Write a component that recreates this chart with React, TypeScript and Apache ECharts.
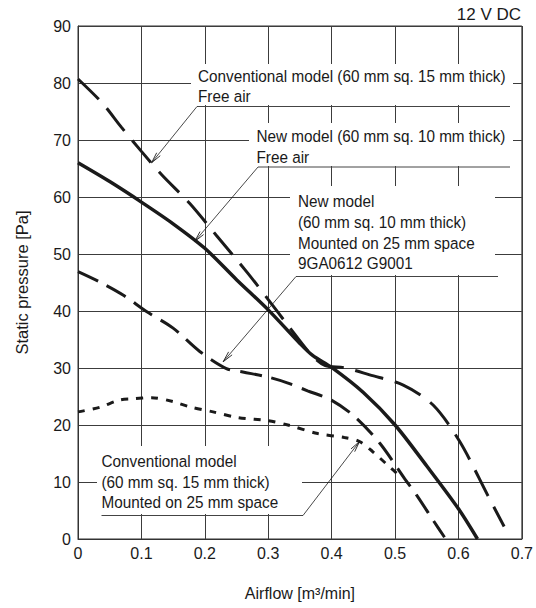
import React, { useEffect, useRef } from 'react';
import * as echarts from 'echarts';

const FONT = '"Liberation Sans", Arial, sans-serif';

// Conventional model (60 mm sq. 15 mm thick), free air
const convFreeX = [0, 0.039, 0.068, 0.1, 0.132, 0.176, 0.218, 0.268, 0.3, 0.331, 0.368, 0.39, 0.42, 0.46, 0.513, 0.56, 0.602, 0.646, 0.672];
const convFreeP = [80.7, 76.4, 72.3, 68, 63.9, 58.9, 53.3, 46.6, 42, 37.5, 32.3, 30.4, 30.05, 28.8, 27, 23.5, 17.1, 7.7, 2.2];

// New model (60 mm sq. 10 mm thick), free air
const newFreeX = [0, 0.05, 0.1, 0.15, 0.2, 0.25, 0.3, 0.35, 0.37, 0.4, 0.45, 0.5, 0.55, 0.6, 0.63];
const newFreeP = [66, 62.7, 59.1, 55.3, 51, 45.5, 40.2, 34.3, 32.2, 30.1, 25.7, 20, 12.8, 5.3, 0];

// New model mounted on 25 mm space
const newMountX = [0, 0.034, 0.071, 0.108, 0.15, 0.192, 0.234, 0.26, 0.3, 0.33, 0.362, 0.399, 0.436, 0.476, 0.515, 0.534, 0.56, 0.578];
const newMountP = [46.9, 45.1, 42.8, 39.9, 37, 32.9, 29.9, 29.3, 28.4, 27.4, 26, 24.4, 21.5, 16.8, 10.6, 7.7, 3.3, 0.3];

// Conventional model mounted on 25 mm space
const convMountX = [0, 0.034, 0.066, 0.087, 0.116, 0.15, 0.176, 0.213, 0.252, 0.297, 0.331, 0.378, 0.42, 0.444, 0.465, 0.486, 0.51];
const convMountP = [22.3, 23.1, 24.4, 24.6, 24.8, 24.1, 23.2, 22.3, 21.3, 20.8, 20, 18.5, 17.8, 17.1, 15.3, 13.2, 10.8];

// Leader arrow targets (airflow, pressure)
const leaderTargets = [
  [0.116, 66],
  [0.184, 52.2],
  [0.229, 31.1],
  [0.444, 17.1],
];

const label1 = ['Conventional model (60 mm sq. 15 mm thick)', 'Free air'];
const label2 = ['New model (60 mm sq. 10 mm thick)', 'Free air'];
const label3 = ['New model', '(60 mm sq. 10 mm thick)', 'Mounted on 25 mm space', '9GA0612 G9001'];
const label4 = ['Conventional model', '(60 mm sq. 15 mm thick)', 'Mounted on 25 mm space'];

const pairs = (xs: number[], ys: number[]) => xs.map((x, i) => [x, ys[i]]);

export default function App() {
  const ref = useRef<HTMLDivElement>(null);
  useEffect(() => {
    const chart = echarts.init(ref.current!, null, { renderer: 'svg' });
    const ink = '#1a1a1a';
    const gridColor = '#3c3c3c';
    chart.setOption({
      animation: false,
      backgroundColor: '#fff',
      grid: { left: 78, right: 14, top: 26, bottom: 69, show: true, borderColor: '#333', borderWidth: 1 },
      xAxis: {
        type: 'value', min: 0, max: 0.7, interval: 0.1,
        name: 'Airflow [m³/min]', nameLocation: 'middle', nameGap: 46,
        nameTextStyle: { fontFamily: FONT, fontSize: 16, color: ink },
        axisLine: { show: true, lineStyle: { color: '#333', width: 1 } },
        axisTick: { show: false },
        axisLabel: { fontFamily: FONT, fontSize: 16, color: ink, margin: 6 },
        splitLine: { show: true, lineStyle: { color: gridColor, width: 1 } },
      },
      yAxis: {
        type: 'value', min: 0, max: 90, interval: 10,
        name: 'Static pressure [Pa]', nameLocation: 'middle', nameGap: 48,
        nameTextStyle: { fontFamily: FONT, fontSize: 16.5, color: ink },
        axisLine: { show: true, lineStyle: { color: '#333', width: 1 } },
        axisTick: { show: false },
        axisLabel: { fontFamily: FONT, fontSize: 16, color: ink, margin: 7 },
        splitLine: { show: true, lineStyle: { color: gridColor, width: 1 } },
      },
      series: [
        { type: 'line', name: 'convFree', data: pairs(convFreeX, convFreeP), smooth: 0.3, symbol: 'none', z: 3,
          lineStyle: { color: ink, width: 3, type: [29, 12], cap: 'butt' } },
        { type: 'line', name: 'newFree', data: pairs(newFreeX, newFreeP), smooth: 0.3, symbol: 'none', z: 3,
          lineStyle: { color: ink, width: 3.5, type: 'solid' } },
        { type: 'line', name: 'newMount', data: pairs(newMountX, newMountP), smooth: 0.3, symbol: 'none', z: 3,
          lineStyle: { color: ink, width: 3, type: [22, 10], cap: 'butt' } },
        { type: 'line', name: 'convMount', data: pairs(convMountX, convMountP), smooth: 0.3, symbol: 'none', z: 3,
          lineStyle: { color: ink, width: 3, type: [7, 8], cap: 'butt' } },
      ],
    });

    const px = (v: number[]) => chart.convertToPixel({ xAxisIndex: 0, yAxisIndex: 0 }, v) as number[];
    const g: any[] = [];
    const SX = 0.9;
    const textStyle = (text: string) => ({ text, font: `17px ${FONT}`, fill: ink, align: 'left', verticalAlign: 'middle', textAlign: 'left', textVerticalAlign: 'middle' });
    const box = (x: number, y: number, w: number, h: number) => g.push({ type: 'rect', shape: { x, y, width: w, height: h }, style: { fill: '#fff' }, z: 1, silent: true });
    const lines = (x: number, ys: number[], texts: string[]) => texts.forEach((t, i) => g.push({ type: 'text', x, y: ys[i], scaleX: SX, style: textStyle(t), z: 5, silent: true }));
    const hline = (x1: number, x2: number, y: number) => g.push({ type: 'line', shape: { x1, y1: y, x2, y2: y }, style: { stroke: '#444', lineWidth: 1 }, z: 5, silent: true });
    const leader = (sx: number, sy: number, target: number[]) => {
      const [tx, ty] = px(target);
      const dx = tx - sx, dy = ty - sy;
      const len = Math.hypot(dx, dy);
      const ux = dx / len, uy = dy / len;
      const nx = -uy, ny = ux;
      const hl = 11, hw = 2.3;
      g.push({ type: 'line', shape: { x1: sx, y1: sy, x2: tx, y2: ty }, style: { stroke: ink, lineWidth: 0.8 }, z: 5, silent: true });
      g.push({ type: 'polyline', shape: { points: [[tx - hl * ux + hw * nx, ty - hl * uy + hw * ny], [tx, ty], [tx - hl * ux - hw * nx, ty - hl * uy - hw * ny]] }, style: { stroke: ink, lineWidth: 0.9, fill: 'none' }, z: 5, silent: true });
    };

    // label 1
    box(191, 64, 322, 41);
    lines(198, [75.5, 95.5], label1);
    hline(197, 510, 106.5);
    leader(197, 106.5, leaderTargets[0]);
    // label 2
    box(249, 123, 264, 43);
    lines(256.5, [136, 156.3], label2);
    hline(258, 510, 167);
    leader(258, 167, leaderTargets[1]);
    // label 3
    box(290, 186, 205, 89);
    lines(298, [201, 221.7, 242.4, 263.1], label3);
    hline(296, 498, 276.5);
    leader(296, 276.5, leaderTargets[2]);
    // label 4
    box(97, 446, 205, 68);
    lines(101.5, [460.8, 481.4, 501.7], label4);
    hline(101.5, 303, 515.5);
    leader(303, 515.5, leaderTargets[3]);
    // voltage
    g.push({ type: 'text', x: 521, y: 14, style: { text: '12 V DC', font: `17px ${FONT}`, fill: ink, align: 'right', verticalAlign: 'middle', textAlign: 'right', textVerticalAlign: 'middle' }, z: 5, silent: true });

    chart.setOption({ graphic: g });
    return () => chart.dispose();
  }, []);
  return <div ref={ref} style={{ position: 'fixed', left: 0, top: 0, width: 536, height: 608 }} />;
}
